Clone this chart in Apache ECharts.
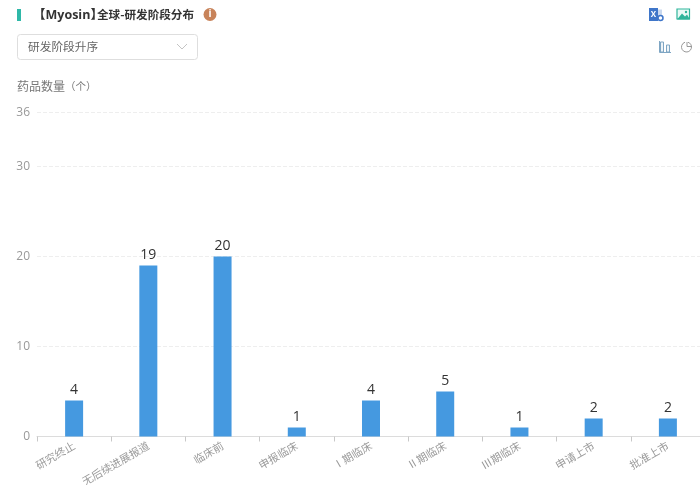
<!DOCTYPE html>
<html><head><meta charset="utf-8">
<style>html,body{margin:0;padding:0;background:#fff}#c{width:700px;height:485px}</style>
<script src="https://cdn.jsdelivr.net/npm/echarts@6/dist/echarts.min.js"></script>
</head><body><div id="c"></div>
<script>
const categories=['研究终止','无后续进展报道','临床前','申报临床','Ⅰ期临床','Ⅱ期临床','Ⅲ期临床','申请上市','批准上市'];
const drugCounts=[4,19,20,1,4,5,1,2,2];
const axisMax=36;
const axisInterval=10;
const titleTarget='【Myosin】';
const titleRest='全球-研发阶段分布';
const sortText='研发阶段升序';
const yAxisNameMain='药品数量';
const yAxisNameUnit='（个）';
const font='"Noto Sans CJK SC","Open Sans",sans-serif';
const chart=echarts.init(document.getElementById('c'),null,{renderer:'canvas'});
chart.setOption({
 animation:false,
 backgroundColor:'#fff',
 grid:{left:37,top:112.5,width:668,height:324,outerBoundsMode:'none'},
 xAxis:{type:'category',data:categories,
  axisLine:{lineStyle:{color:'#dcdcdc'}},
  axisTick:{show:true,length:5,inside:false,lineStyle:{color:'#c8c8c8'}},
  axisLabel:{rotate:30,interval:0,color:'#9a9a9a',fontSize:10.8,fontFamily:font,margin:8}},
 yAxis:{type:'value',min:0,max:axisMax,interval:axisInterval,
  axisLine:{show:false},axisTick:{show:false},
  axisLabel:{color:'#999',fontSize:12,fontFamily:'"Open Sans",sans-serif',margin:7},
  splitLine:{lineStyle:{color:'#eeeeee',type:'dashed'}}},
 series:[{type:'bar',data:drugCounts,barWidth:18,
  itemStyle:{color:'#4599e0'},
  label:{show:true,position:'top',color:'#333',fontSize:14,fontFamily:'"Open Sans",sans-serif',distance:3}}],
 graphic:[
  {type:'rect',shape:{x:17,y:9,width:4,height:12},style:{fill:'#2fb8a8'}},
  {type:'text',x:33,y:15,style:{text:titleTarget,fill:'#333',font:'bold 12.5px "Open Sans","Noto Sans CJK SC"',verticalAlign:'middle'}},
  {type:'text',x:97,y:15,style:{text:titleRest,fill:'#333',font:'bold 11.6px "Noto Sans CJK SC"',verticalAlign:'middle'}},
  {type:'circle',shape:{cx:210,cy:14.5,r:6.5},style:{fill:'#c8835a'}},
  {type:'text',x:210,y:14.5,style:{text:'i',fill:'#fff',font:'bold 10px "Open Sans"',textAlign:'center',textVerticalAlign:'middle'}},
  {type:'rect',shape:{x:17.5,y:34.5,width:180,height:25,r:3},style:{fill:'#fff',stroke:'#dedede',lineWidth:1}},
  {type:'text',x:28,y:47,style:{text:sortText,fill:'#666',font:'11.7px "Noto Sans CJK SC"',textVerticalAlign:'middle'}},
  {type:'polyline',shape:{points:[[177,44],[182,49],[187,44]]},style:{stroke:'#c4c4c4',fill:null,lineWidth:1}},
  {type:'text',x:17,y:86,style:{
    text:'{a|'+yAxisNameMain+'}{b|'+yAxisNameUnit+'}',
    verticalAlign:'middle',
    rich:{
     a:{fill:'#777',font:'12px "Noto Sans CJK SC"'},
     b:{fill:'#777',font:'10.5px "Noto Sans CJK SC"'}
    }}},
  // excel icon
  {type:'rect',shape:{x:649,y:8,width:9,height:13},style:{fill:'#3f76c9'}},
  {type:'rect',shape:{x:658,y:9.5,width:4,height:9},style:{fill:'#c9d8ee'}},
  {type:'text',x:653.5,y:14.5,style:{text:'X',fill:'#fff',font:'bold 8px "Open Sans"',textAlign:'center',textVerticalAlign:'middle'}},
  {type:'circle',shape:{cx:660.5,cy:18,r:2.5},style:{fill:'#fff',stroke:'#3f76c9',lineWidth:1.5}},
  // image icon
  {type:'rect',shape:{x:677,y:9,width:12.5,height:10},style:{fill:'#eafaf6',stroke:'#2fb59b',lineWidth:1.2}},
  {type:'polygon',shape:{points:[[677,19.5],[682,13.5],[685,16.5],[687,14.5],[690,19.5]]},style:{fill:'#2fb59b'}},
  {type:'circle',shape:{cx:686,cy:12,r:1.2},style:{fill:'#2fb59b'}},
  // bar icon
  {type:'polyline',shape:{points:[[659.5,41],[659.5,52.5],[671,52.5]]},style:{stroke:'#7fa6c4',fill:null,lineWidth:1}},
  {type:'rect',shape:{x:660.5,y:42,width:3,height:10},style:{fill:'#eef4f8',stroke:'#7fa6c4',lineWidth:1}},
  {type:'rect',shape:{x:666.5,y:45,width:3,height:7},style:{fill:'#eef4f8',stroke:'#7fa6c4',lineWidth:1}},
  // pie icon
  {type:'arc',shape:{cx:686.5,cy:47,r:5,startAngle:-Math.PI/2+0.3,endAngle:Math.PI*1.5-0.3,clockwise:true},style:{stroke:'#999',fill:null,lineWidth:1}},
  {type:'polyline',shape:{points:[[687,42],[687,46.5],[692,46.5]]},style:{stroke:'#999',fill:null,lineWidth:1}}
 ]
});
</script></body></html>
